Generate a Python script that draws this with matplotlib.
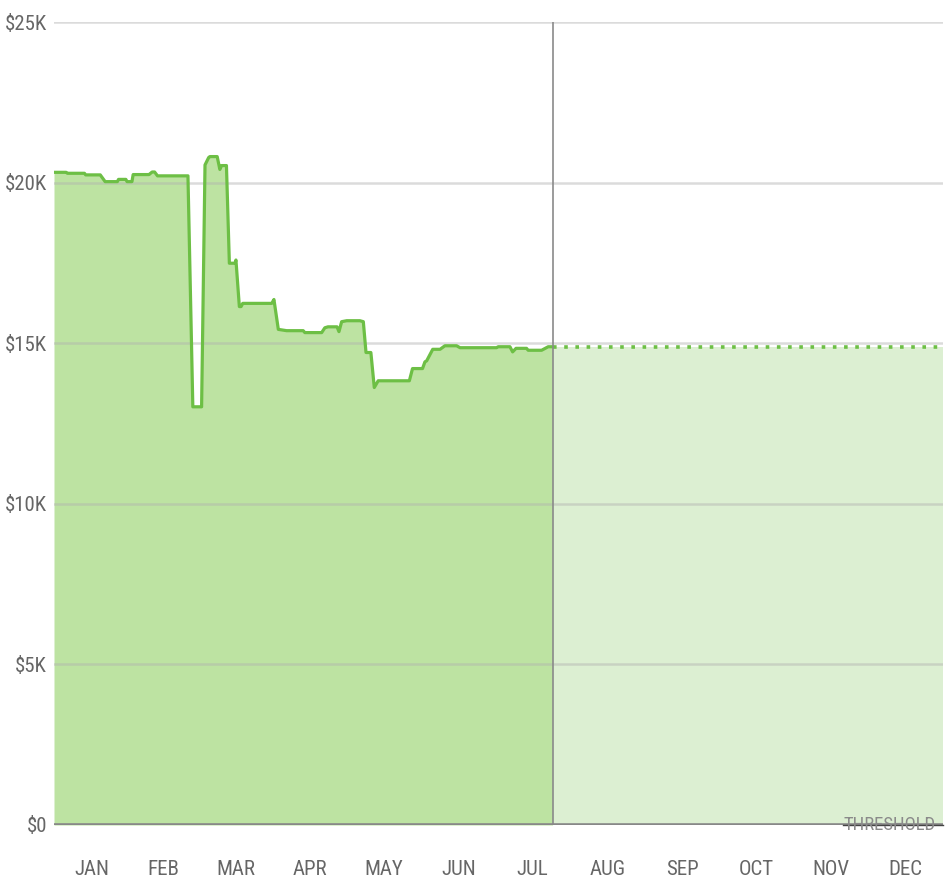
import matplotlib
matplotlib.use("Agg")
import matplotlib.pyplot as plt
from matplotlib import font_manager as fm

# ---- data (day of year, value in $K) ----
days = [0, 5, 5.5, 12.5, 13, 19, 21, 26, 26.5, 29.5, 30, 32, 32.5, 39, 40.3, 41.3,
        42.5, 55, 57, 60.6, 62, 63.5, 64, 67, 68.1, 68.8, 70.8, 72, 74.3, 74.7,
        76.1, 76.8, 77.5, 89.4, 90.3, 92.1, 95.5, 102.3, 103, 109.9, 111.2, 112.5,
        116.2, 117, 118.1, 120.2, 125.6, 127, 128.1, 130.1, 131.5, 133.1, 145.9,
        147.2, 151.3, 152.3, 153, 155.5, 158.5, 160.5, 165.3, 166.7, 181.7, 182.4,
        187.2, 188.3, 189.7, 194, 194.7, 200.2, 202.9, 204.7]
values = [20.32, 20.32, 20.29, 20.29, 20.24, 20.24, 20.03, 20.03, 20.10, 20.10, 20.03,
          20.03, 20.25, 20.25, 20.33, 20.33, 20.21, 20.21, 13.02, 13.02, 20.55, 20.78,
          20.81, 20.81, 20.41, 20.53, 20.53, 17.49, 17.49, 17.59, 16.14, 16.14, 16.24,
          16.24, 16.36, 15.43, 15.39, 15.39, 15.33, 15.33, 15.48, 15.51, 15.51, 15.36,
          15.67, 15.70, 15.70, 15.67, 14.71, 14.71, 13.62, 13.83, 13.83, 14.21, 14.21,
          14.42, 14.45, 14.81, 14.81, 14.92, 14.92, 14.86, 14.86, 14.89, 14.89, 14.73,
          14.84, 14.84, 14.78, 14.78, 14.89, 14.89]
today = 204.7
year_end = 365
forecast_value = 14.89

months = ["JAN", "FEB", "MAR", "APR", "MAY", "JUN", "JUL", "AUG", "SEP", "OCT", "NOV", "DEC"]
month_starts = [0, 31, 59, 90, 120, 151, 181, 212, 243, 273, 304, 334, 365]
yticks = [0, 5, 10, 15, 20, 25]
ytick_labels = ["$0", "$5K", "$10K", "$15K", "$20K", "$25K"]
threshold_label = "THRESHOLD"
threshold_value = 0
threshold_start = 324

# ---- pick the narrowest available font ----
entries = fm.fontManager.ttflist
names = {f.name for f in entries}
font_kw = {}
chosen = None
for cand in ["Roboto Condensed", "Liberation Sans Narrow", "Open Sans Condensed",
             "Noto Sans Condensed", "DejaVu Sans Condensed", "Arial Narrow"]:
    if cand in names:
        chosen = cand
        break
if chosen is None:
    for f in entries:
        st = f.stretch
        if (isinstance(st, str) and "condensed" in st) or (not isinstance(st, str) and st <= 500):
            if f.name in ("DejaVu Sans", "Noto Sans", "Roboto", "Open Sans"):
                chosen = f.name
                font_kw = {"fontstretch": "condensed"}
                break
narrow = chosen is not None
if chosen is None:
    chosen = "Lato" if "Lato" in names else "DejaVu Sans"
plt.rcParams["font.family"] = [chosen, "DejaVu Sans"]
if font_kw:
    plt.rcParams["font.stretch"] = "condensed"

tick_size = 15 if narrow else 12
thr_size = 13.5 if narrow else 11

fig = plt.figure(figsize=(9.52, 8.81), dpi=100)
ax = fig.add_axes([54 / 952, 56 / 881, 889 / 952, 803 / 881])

line_c = "#6dbf45"
fill_dark = "#bde3a2"
fill_light = "#dcefd2"

ax.fill_between(days, values, 0, color=fill_dark, lw=0, zorder=1)
ax.fill_between([today, year_end], [forecast_value] * 2, 0, color=fill_light, lw=0, zorder=1)
ax.plot(days, values, color=line_c, lw=2.3, zorder=4, solid_joinstyle="round")
ax.plot([today, year_end], [forecast_value] * 2, color=line_c, lw=2.6,
        linestyle=(0, (1, 2.1)), zorder=4)

for y in yticks[1:]:
    ax.axhline(y, color="#b0b0b0", alpha=0.45, lw=1.8, zorder=3)
ax.axvline(today, color="#8a8a8a", lw=1.2, zorder=5)
ax.axhline(0, color="#888888", lw=2.6, zorder=5)
ax.plot([threshold_start, year_end], [threshold_value] * 2, color="#444444", lw=1.0,
        zorder=6, clip_on=False)

ax.set_xlim(0, year_end)
ax.set_ylim(0, 25)
for s in ax.spines.values():
    s.set_visible(False)

ax.set_yticks(yticks)
ax.set_yticklabels(ytick_labels)
mids = [(month_starts[i] + month_starts[i + 1]) / 2 for i in range(12)]
ax.set_xticks(mids)
ax.set_xticklabels(months)
ax.tick_params(axis="both", length=0, colors="#666666", labelsize=tick_size)
ax.tick_params(axis="x", pad=25)
ax.tick_params(axis="y", pad=5)

ax.text(year_end - 3, threshold_value, threshold_label, ha="right", va="center",
        color="#8a8a8a", fontsize=thr_size, zorder=7, clip_on=False)

fig.savefig("out.png", dpi=100)
